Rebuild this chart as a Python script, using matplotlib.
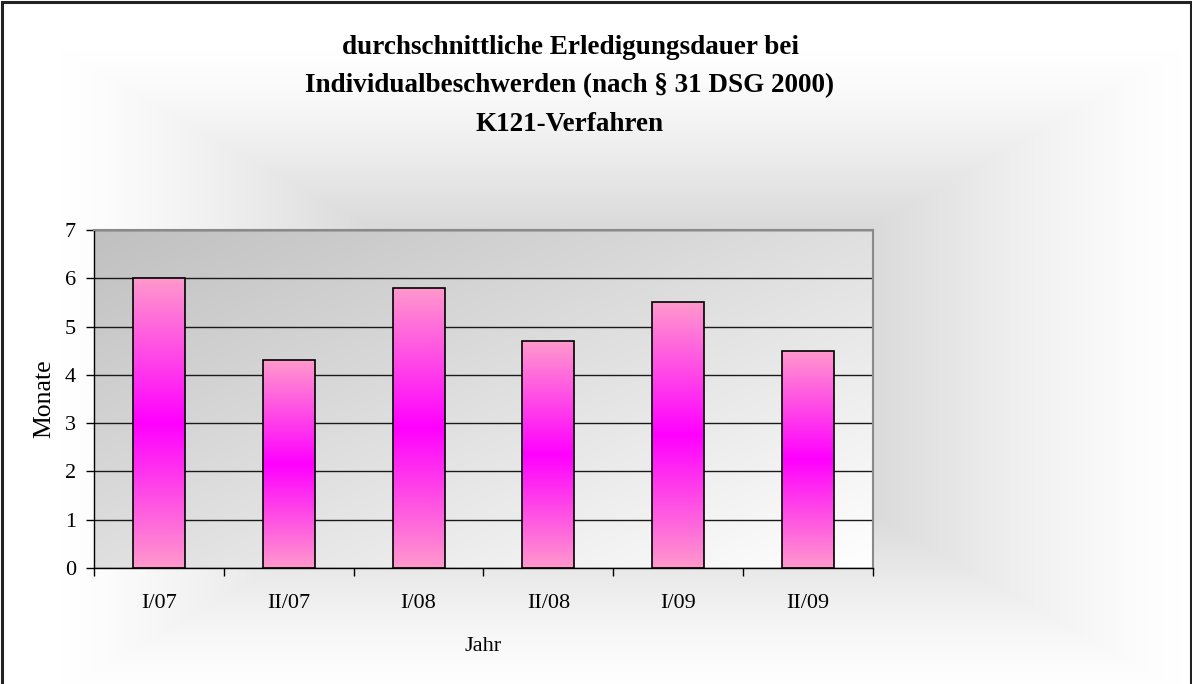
import matplotlib
matplotlib.use('Agg')
import matplotlib.pyplot as plt
import numpy as np
from matplotlib.colors import LinearSegmentedColormap
from matplotlib.patches import Rectangle

plt.rcParams['font.family'] = ['Liberation Serif', 'DejaVu Serif']

periods = ['I/07', 'II/07', 'I/08', 'II/08', 'I/09', 'II/09']
dauer = [6.0, 4.3, 5.8, 4.7, 5.5, 4.5]
y_ticks = [0, 1, 2, 3, 4, 5, 6, 7]

title = ('durchschnittliche Erledigungsdauer bei\n'
         'Individualbeschwerden (nach § 31 DSG 2000)\n'
         'K121-Verfahren')

W, H = 1192, 684
fig = plt.figure(figsize=(W / 100, H / 100), dpi=100)

# background of the whole chart: rectangular gradient, grey centre -> white edge
bg = fig.add_axes([0, 0, 1, 1], zorder=0)
px, py = np.meshgrid(np.arange(W), np.arange(H))
t = np.maximum(np.abs(px - 620) / 560, np.abs(py - 370) / 320)
dark = 80 * np.clip(1 - t, 0, 1) ** 1.3
grey = (255 - dark) / 255
bg.imshow(np.dstack([grey, grey, grey]), extent=(0, 1, 0, 1), aspect='auto', origin='upper')
bg.axis('off')

ax = fig.add_axes([94 / W, 1 - 568 / H, (873 - 94) / W, (568 - 230) / H], zorder=1)
ax.patch.set_visible(False)

x = np.arange(len(periods))
xlim = (-0.5, len(periods) - 0.5)
ylim = (0, 7)

# plot area: diagonal grey gradient, darker top left
u, r = np.meshgrid(np.linspace(0, 1, 300), np.linspace(0, 1, 200))
pa = (192 + 63 * (u + r) / 2) / 255
ax.imshow(np.dstack([pa, pa, pa]), extent=(*xlim, *ylim), aspect='auto', origin='upper', zorder=0)

# bars: pink -> magenta -> pink
pink = LinearSegmentedColormap.from_list('pinkmag', ['#ff99cc', '#ff00ff', '#ff99cc'])
grad = np.linspace(0, 1, 256).reshape(-1, 1)
width = 0.4
bars = ax.bar(x, dauer, width=width, facecolor='none', edgecolor='black', linewidth=1.2, zorder=3)
for bar in bars:
    bx, bw, bh = bar.get_x(), bar.get_width(), bar.get_height()
    im = ax.imshow(grad, cmap=pink, extent=(bx, bx + bw, 0, bh), aspect='auto',
                   origin='lower', zorder=2)
    im.set_clip_path(bar)

ax.set_xlim(*xlim)
ax.set_ylim(*ylim)

ax.set_axisbelow(True)
ax.yaxis.grid(True, color='#1a1a1a', linewidth=1.0)

ax.set_yticks(y_ticks)
ax.tick_params(axis='y', direction='out', length=6, width=1, pad=7, labelsize=16, colors='black')
ax.set_xticks(np.arange(-0.5, len(periods), 1))
ax.set_xticklabels([])
ax.set_xticks(x, minor=True)
ax.set_xticklabels(periods, minor=True)
ax.tick_params(axis='x', which='major', direction='out', length=6, width=1)
ax.tick_params(axis='x', which='minor', length=0, pad=19, labelsize=16)

for side in ('left', 'bottom'):
    ax.spines[side].set_color('black')
    ax.spines[side].set_linewidth(1.0)
for side in ('top', 'right'):
    ax.spines[side].set_color('#8a8a8a')
    ax.spines[side].set_linewidth(1.5)

ax.set_ylabel('Monate', fontsize=18.5, labelpad=7)
ax.set_xlabel('Jahr', fontsize=16, labelpad=17)

fig.text(570 / W, 1 - 86 / H, title, ha='center', va='center', fontsize=19.5,
         fontweight='bold', linespacing=1.7)

# frame around the chart
fig.patches.append(Rectangle((1.5 / W, -0.01), 1189 / W, 1.01 - 1.5 / H, transform=fig.transFigure,
                             fill=False, edgecolor='#222222', linewidth=2.2, zorder=5))

fig.savefig('out.png', dpi=100)
